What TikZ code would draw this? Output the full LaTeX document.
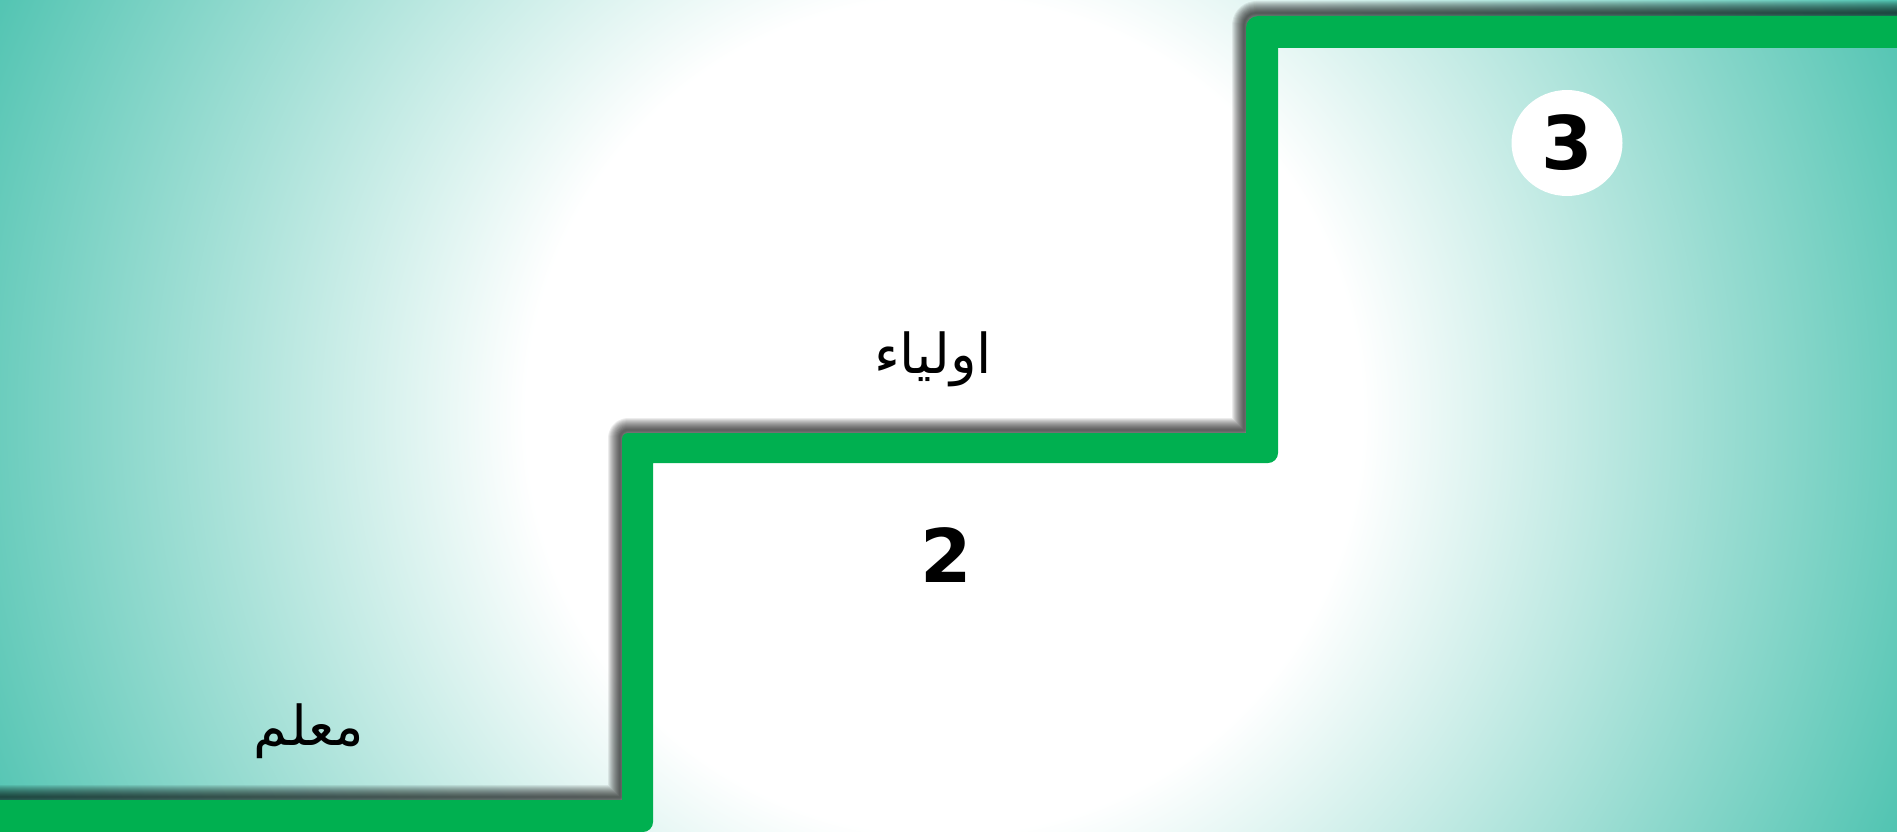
\documentclass[tikz,border=0pt]{standalone}
\usepackage{fontspec}
\usetikzlibrary{shapes.geometric}
\newfontfamily\arabicfont[Script=Arabic]{DejaVu Sans}
\newfontfamily\digitfont{DejaVu Sans}
\TeXXeTstate=1
\definecolor{stairgreen}{HTML}{00B050}
\definecolor{bgteal}{HTML}{40BEAA}
\pgfdeclareradialshading{bgshade}{\pgfpoint{0bp}{0bp}}{color(0bp)=(white); color(9.5bp)=(white); color(25bp)=(bgteal); color(50bp)=(bgteal)}
\tikzset{
  arlabel/.style={anchor=base, inner sep=0pt, font=\arabicfont\fontsize{55}{62}\selectfont},
  numlabel/.style={inner sep=0pt, font=\digitfont\bfseries\fontsize{74}{80}\selectfont},
  shadowline/.style={draw=black, line join=round, line cap=butt}
}
\begin{document}
\begin{tikzpicture}[x=1pt,y=-1pt]
\useasboundingbox (0,0) rectangle (1897,832);
\begin{scope}
\clip (0,0) rectangle (1897,832);
\fill[bgteal] (0,0) rectangle (1897,832);
\shade[shading=bgshade] (944,416) circle (1100);
% shadow of the stairs
\begin{scope}[shift={(-2,-3)}]
\foreach \w in {2,4,...,24}{
  \draw[shadowline, line width=\w, opacity=0.075]
    (-20,800) -- (622,800) [rounded corners=8] -- (622,433) [sharp corners] -- (1246,433) [rounded corners=12] -- (1246,16) [sharp corners] -- (1920,16);
}
\end{scope}
% stairs
\fill[stairgreen] (0,800) -- (622,800) [rounded corners=6] -- (622,433) [sharp corners] -- (1246,433) [rounded corners=12] -- (1246,16) [sharp corners] -- (1897,16) -- (1897,48) -- (1278,48) [rounded corners=10] -- (1278,463) [sharp corners] -- (653,463) [rounded corners=10] -- (653,832) [sharp corners] -- (0,832) -- cycle;
\end{scope}
% labels
\node[arlabel] (t1) at (309,745) {\beginR معلم\endR};
\node[arlabel] (t2) at (933,373) {\beginR اولياء\endR};
\node[numlabel, anchor=base] (n2) at (946,582) {2};
\node[numlabel, fill=white, ellipse, minimum width=111, minimum height=106] (n3) at (1567,143) {3};
\end{tikzpicture}
\end{document}
